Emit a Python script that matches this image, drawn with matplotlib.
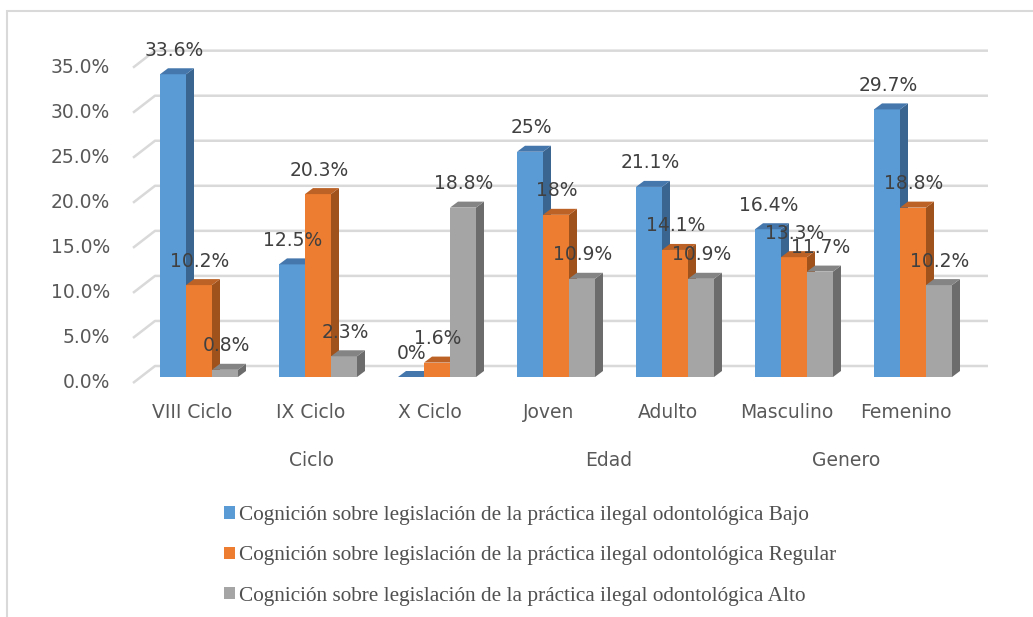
import matplotlib
matplotlib.use("Agg")
import matplotlib.pyplot as plt
from matplotlib.patches import Polygon, Rectangle, Patch

# ---- data ----
categories = ["VIII Ciclo", "IX Ciclo", "X Ciclo", "Joven", "Adulto", "Masculino", "Femenino"]
groups = ["Ciclo", "Edad", "Genero"]
group_members = [[0, 1, 2], [3, 4], [5, 6]]
series = [
    "Cognición sobre legislación de la práctica ilegal odontológica Bajo",
    "Cognición sobre legislación de la práctica ilegal odontológica Regular",
    "Cognición sobre legislación de la práctica ilegal odontológica Alto",
]
bajo = [33.6, 12.5, 0.0, 25.0, 21.1, 16.4, 29.7]
regular = [10.2, 20.3, 1.6, 18.0, 14.1, 13.3, 18.8]
alto = [0.8, 2.3, 18.8, 10.9, 10.9, 11.7, 10.2]
bajo_lbl = ["33.6%", "12.5%", "0%", "25%", "21.1%", "16.4%", "29.7%"]
regular_lbl = ["10.2%", "20.3%", "1.6%", "18%", "14.1%", "13.3%", "18.8%"]
alto_lbl = ["0.8%", "2.3%", "18.8%", "10.9%", "10.9%", "11.7%", "10.2%"]
yticks = [0, 5, 10, 15, 20, 25, 30, 35]

values = [bajo, regular, alto]
labels = [bajo_lbl, regular_lbl, alto_lbl]
front_c = ["#5B9BD5", "#ED7D31", "#A5A5A5"]
top_c = ["#4577AD", "#BC6226", "#848484"]
side_c = ["#3A6591", "#A0521C", "#6C6C6C"]

# ---- geometry (pixel scale of the reference) ----
W, H = 1033, 617
PX_X = 119.0      # pixels per category
PX_Y = 9.01       # pixels per percent
X0, Y0 = 199, 383  # pixel of first category centre / front 0 %

fig = plt.figure(figsize=(W / 100, H / 100), dpi=100)
ax = fig.add_axes([0, 0, 1, 1])
ax.set_xlim(-X0 / PX_X, (W - X0) / PX_X)
ax.set_ylim((Y0 - H) / PX_Y, Y0 / PX_Y)
ax.axis("off")

def px(dx):
    return dx / PX_X

def py(dy):
    return dy / PX_Y

# outer frame
fig.patches.append(Rectangle((7 / W, -0.1), 1.2, 1 - 11 / H + 0.1, transform=fig.transFigure,
                             fill=False, edgecolor="#D9D9D9", linewidth=1.5))

# back wall gridlines with diagonal connectors
x_left = px(133 - X0)
x_right = px(988 - X0)
bdx, bdy = px(22), py(17)
for v in yticks:
    ax.plot([x_left, x_left + bdx, x_right], [v, v + bdy, v + bdy],
            color="#D9D9D9", linewidth=1.8, zorder=1, solid_capstyle="butt")
    ax.text(px(110 - X0), v, f"{v:.1f}%", ha="right", va="center",
            fontsize=13.5, color="#595959")

# 3D-ish bars
bw = px(26)
ddx, ddy = px(8), py(6)
base = py(6)
for s in range(3):
    for i, v in enumerate(values[s]):
        x0 = i + (s - 1.5) * bw
        x1 = x0 + bw
        b, t = base, base + v
        z = 3 + s
        if v > 0:
            ax.add_patch(Rectangle((x0, b), bw, v, facecolor=front_c[s], edgecolor="none", zorder=z))
        ax.add_patch(Polygon([(x1, b), (x1, t), (x1 + ddx, t + ddy), (x1 + ddx, b + ddy)],
                             closed=True, facecolor=side_c[s], edgecolor="none", zorder=z))
        ax.add_patch(Polygon([(x0, t), (x1, t), (x1 + ddx, t + ddy), (x0 + ddx, t + ddy)],
                             closed=True, facecolor=top_c[s], edgecolor="none", zorder=z))
        ax.text(x0 + bw / 2 + px(1), t + py(24), labels[s][i], ha="center", va="center",
                fontsize=13.5, color="#404040", zorder=10)

# category and group labels
for i, c in enumerate(categories):
    ax.text(i - px(7), py(383 - 413), c, ha="center", va="center", fontsize=13.5, color="#595959")
for g, members in zip(groups, group_members):
    xc = sum(members) / len(members) - px(7)
    ax.text(xc, py(383 - 461), g, ha="center", va="center", fontsize=13.5, color="#595959")

# legend
handles = [Patch(facecolor=front_c[s], edgecolor="none") for s in range(3)]
leg = fig.legend(handles, series, loc="upper left", bbox_to_anchor=(205 / W, 1 - 487 / H),
                 frameon=False, ncol=1, handlelength=0.52, handleheight=0.52,
                 handletextpad=0.2, labelspacing=1.0,
                 prop={"family": "Liberation Serif", "size": 15.3})
for t in leg.get_texts():
    t.set_color("#505050")

fig.savefig("out.png", dpi=100)
